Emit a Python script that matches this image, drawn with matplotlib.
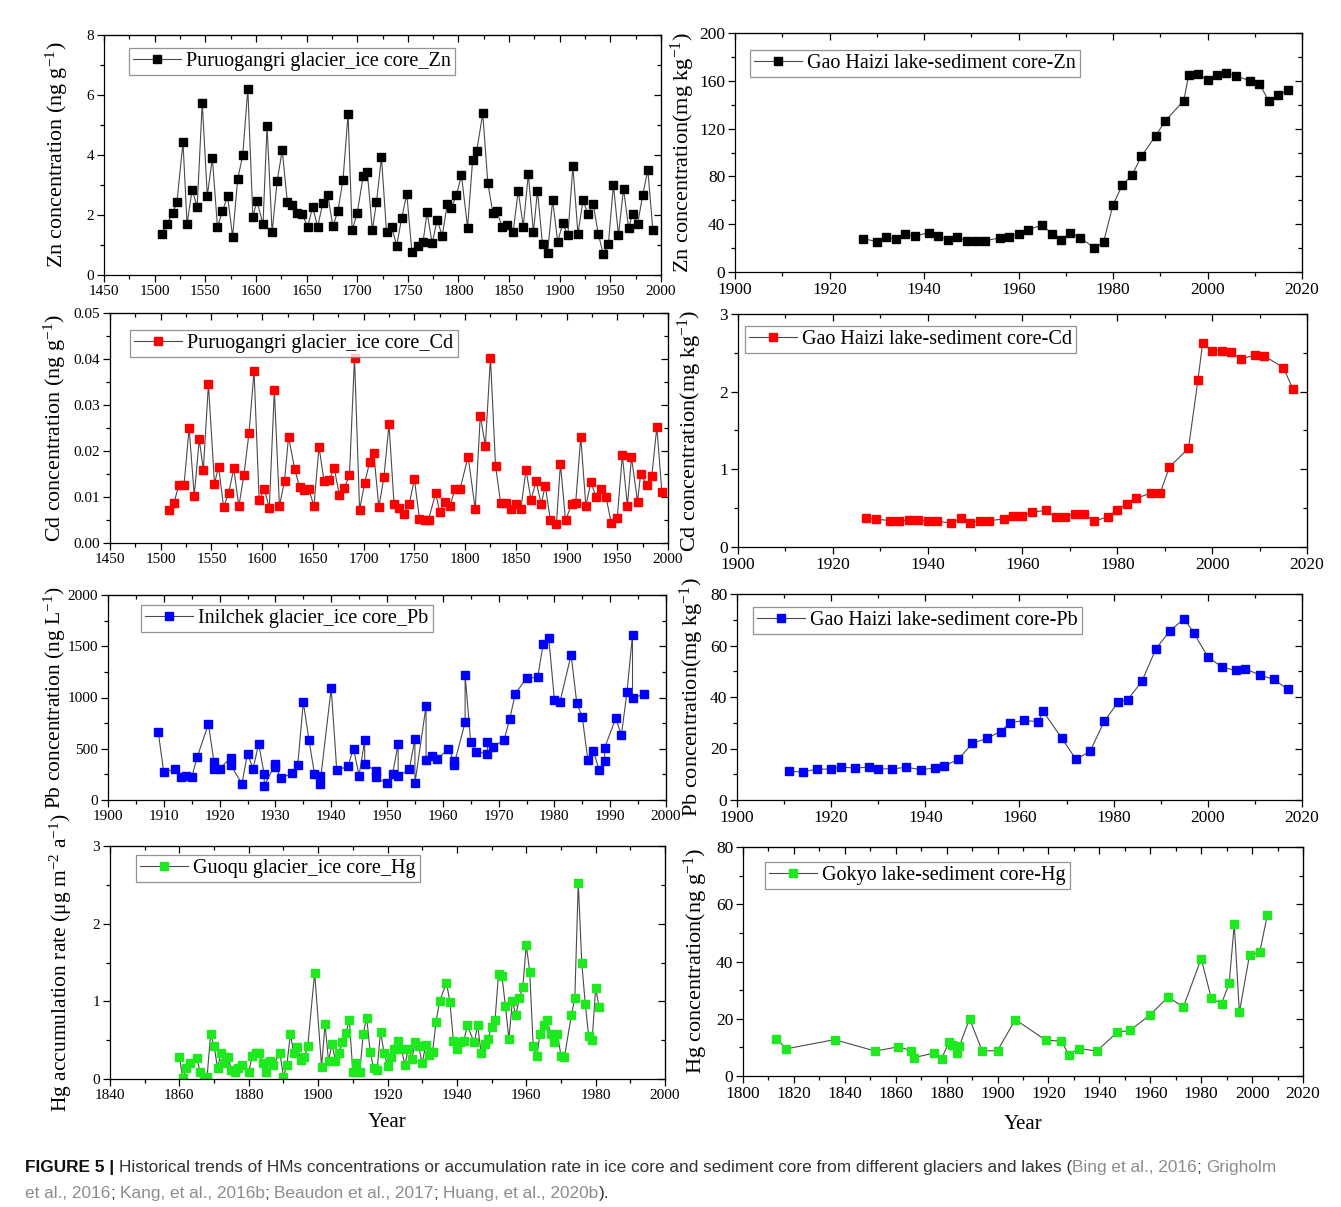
import matplotlib.pyplot as plt
from matplotlib.ticker import MultipleLocator, FormatStrFormatter

plt.rcParams['font.family'] = ['Liberation Serif', 'DejaVu Serif']
plt.rcParams['mathtext.fontset'] = 'custom'
plt.rcParams['mathtext.rm'] = 'Liberation Serif'
plt.rcParams['mathtext.it'] = 'Liberation Serif:italic'
plt.rcParams['mathtext.default'] = 'regular'

# ---- Puruogangri glacier ice core, Zn (ng/g)
zn_ice_year = [1507, 1512, 1518, 1522, 1528, 1532, 1537, 1542, 1547, 1552,
               1557, 1562, 1567, 1572, 1577, 1582, 1587, 1592, 1597, 1601,
               1607, 1611, 1616, 1621, 1626, 1631, 1636, 1641, 1646, 1651,
               1656, 1661, 1666, 1671, 1676, 1681, 1686, 1691, 1695, 1700,
               1706, 1710, 1715, 1719, 1724, 1729, 1734, 1739, 1744, 1749,
               1754, 1760, 1765, 1769, 1774, 1779, 1784, 1789, 1793, 1798,
               1803, 1809, 1814, 1818, 1824, 1829, 1834, 1838, 1843, 1848,
               1854, 1859, 1864, 1869, 1874, 1878, 1883, 1888, 1893, 1898,
               1903, 1908, 1913, 1918, 1923, 1928, 1933, 1938, 1943, 1948,
               1953, 1958, 1963, 1968, 1972, 1977, 1982, 1987, 1992]
zn_ice_val = [1.37, 1.70, 2.08, 2.43, 4.42, 1.70, 2.83, 2.28, 5.74, 2.64,
              3.90, 1.61, 2.12, 2.64, 1.27, 3.19, 4.00, 6.21, 1.94, 2.47,
              1.69, 4.97, 1.42, 3.14, 4.16, 2.43, 2.34, 2.08, 2.02, 1.60,
              2.26, 1.61, 2.39, 2.66, 1.62, 2.14, 3.17, 5.37, 1.49, 2.06,
              3.31, 3.43, 1.49, 2.42, 3.92, 1.42, 1.61, 0.98, 1.91, 2.70,
              0.78, 0.98, 1.09, 2.09, 1.06, 1.83, 1.31, 2.37, 2.23, 2.68,
              3.32, 1.58, 3.83, 4.13, 5.39, 3.07, 2.06, 2.14, 1.59, 1.67,
              1.42, 2.81, 1.61, 3.37, 1.42, 2.80, 1.03, 0.74, 2.49, 1.11,
              1.72, 1.32, 3.62, 1.37, 2.49, 2.02, 2.37, 1.38, 0.69, 1.02,
              3.00, 1.33, 2.87, 1.58, 2.03, 1.71, 2.68, 3.50, 1.49]

# ---- Puruogangri glacier ice core, Cd (ng/g)
cd_ice_year = [1508, 1513, 1518, 1523, 1528, 1533, 1538, 1542, 1547, 1553,
               1557, 1562, 1567, 1572, 1577, 1582, 1587, 1592, 1597, 1602,
               1607, 1612, 1617, 1622, 1626, 1632, 1637, 1641, 1646, 1651,
               1656, 1661, 1666, 1671, 1676, 1681, 1686, 1691, 1696, 1701,
               1706, 1710, 1715, 1720, 1725, 1730, 1735, 1740, 1745, 1750,
               1755, 1760, 1764, 1771, 1775, 1780, 1785, 1790, 1795, 1803,
               1810, 1815, 1820, 1825, 1830, 1835, 1840, 1845, 1850, 1855,
               1860, 1865, 1870, 1875, 1879, 1884, 1890, 1894, 1899, 1905,
               1909, 1914, 1919, 1924, 1929, 1934, 1939, 1944, 1950, 1955,
               1960, 1964, 1970, 1973, 1979, 1984, 1989, 1994]
cd_ice_val = [0.0072, 0.0087, 0.0127, 0.0127, 0.0250, 0.0103, 0.0225, 0.0159, 0.0345, 0.0129,
              0.0166, 0.0078, 0.0109, 0.0162, 0.0080, 0.0148, 0.0239, 0.0374, 0.0093, 0.0118,
              0.0076, 0.0332, 0.0080, 0.0135, 0.0231, 0.0161, 0.0121, 0.0116, 0.0117, 0.0080,
              0.0209, 0.0135, 0.0138, 0.0162, 0.0105, 0.0120, 0.0147, 0.0403, 0.0072, 0.0130,
              0.0177, 0.0195, 0.0078, 0.0143, 0.0258, 0.0084, 0.0076, 0.0064, 0.0085, 0.0139,
              0.0053, 0.0051, 0.0051, 0.0108, 0.0068, 0.0090, 0.0080, 0.0117, 0.0117, 0.0188,
              0.0073, 0.0277, 0.0211, 0.0403, 0.0168, 0.0088, 0.0087, 0.0073, 0.0084, 0.0074,
              0.0159, 0.0094, 0.0134, 0.0084, 0.0125, 0.0050, 0.0042, 0.0172, 0.0049, 0.0085,
              0.0087, 0.0231, 0.0081, 0.0132, 0.0101, 0.0117, 0.0099, 0.0044, 0.0055, 0.0191,
              0.0081, 0.0186, 0.0090, 0.0151, 0.0126, 0.0145, 0.0252, 0.0110]

# ---- Inilchek glacier ice core, Pb (ng/L)
pb_ice_year = [1909, 1910, 1912, 1913, 1914, 1915, 1916, 1918, 1919, 1919,
               1920, 1922, 1922, 1924, 1925, 1926, 1927, 1928, 1928, 1930,
               1930, 1931, 1933, 1934, 1935, 1936, 1937, 1938, 1938, 1940,
               1941, 1943, 1944, 1945, 1946, 1946, 1948, 1948, 1950, 1951,
               1952, 1952, 1954, 1955, 1955, 1957, 1957, 1958, 1959, 1961,
               1962, 1962, 1964, 1964, 1965, 1966, 1968, 1968, 1969, 1971,
               1972, 1973, 1975, 1977, 1978, 1979, 1980, 1981, 1983, 1984,
               1985, 1986, 1987, 1988, 1989, 1989, 1991, 1992, 1993, 1994,
               1994, 1996]
pb_ice_val = [663, 269, 301, 220, 239, 220, 421, 741, 369, 301,
              304, 411, 340, 159, 453, 304, 550, 249, 139, 353,
              324, 214, 262, 340, 955, 589, 256, 230, 159, 1091,
              288, 330, 502, 239, 583, 350, 285, 220, 162, 252,
              550, 230, 301, 592, 162, 916, 388, 430, 398, 498,
              382, 340, 760, 1223, 563, 472, 450, 566, 518, 589,
              793, 1039, 1188, 1197, 1524, 1576, 977, 958, 1417, 951,
              806, 388, 482, 291, 385, 508, 799, 631, 1049, 1612,
              993, 1032]

# ---- Guoqu glacier ice core, Hg accumulation (ug m-2 a-1)
hg_ice_year = [1860, 1861, 1862, 1863, 1865, 1866, 1867, 1868, 1869, 1870,
               1871, 1872, 1873, 1874, 1875, 1876, 1877, 1878, 1880, 1881,
               1882, 1883, 1884, 1885, 1886, 1887, 1889, 1890, 1891, 1892,
               1893, 1894, 1895, 1896, 1897, 1899, 1901, 1902, 1903, 1904,
               1905, 1906, 1907, 1908, 1909, 1910, 1911, 1912, 1913, 1914,
               1915, 1916, 1917, 1918, 1919, 1920, 1921, 1922, 1923, 1924,
               1925, 1926, 1927, 1928, 1929, 1930, 1931, 1932, 1933, 1934,
               1935, 1937, 1938, 1939, 1940, 1941, 1942, 1943, 1945, 1946,
               1947, 1948, 1949, 1950, 1951, 1952, 1953, 1954, 1955, 1956,
               1957, 1958, 1959, 1960, 1961, 1962, 1963, 1964, 1965, 1966,
               1967, 1968, 1969, 1970, 1971, 1973, 1974, 1975, 1976, 1977,
               1978, 1979, 1980, 1981]
hg_ice_val = [0.28, 0.01, 0.14, 0.21, 0.27, 0.09, 0.02, 0.03, 0.58, 0.43,
              0.14, 0.34, 0.21, 0.28, 0.12, 0.09, 0.14, 0.18, 0.09, 0.30,
              0.33, 0.34, 0.21, 0.09, 0.23, 0.18, 0.33, 0.03, 0.18, 0.58,
              0.33, 0.41, 0.24, 0.28, 0.42, 1.37, 0.16, 0.71, 0.23, 0.45,
              0.23, 0.34, 0.47, 0.59, 0.76, 0.09, 0.21, 0.09, 0.58, 0.79,
              0.35, 0.14, 0.12, 0.61, 0.34, 0.17, 0.28, 0.39, 0.49, 0.39,
              0.18, 0.39, 0.26, 0.47, 0.42, 0.20, 0.44, 0.31, 0.35, 0.74,
              1.00, 1.24, 0.99, 0.49, 0.39, 0.48, 0.49, 0.69, 0.47, 0.69,
              0.33, 0.45, 0.52, 0.67, 0.76, 1.35, 1.32, 0.94, 0.51, 1.01,
              0.82, 1.04, 1.18, 1.73, 1.38, 0.42, 0.29, 0.58, 0.69, 0.76,
              0.58, 0.47, 0.58, 0.30, 0.28, 0.82, 1.04, 2.53, 1.50, 0.97,
              0.55, 0.50, 1.17, 0.93]

# ---- Gao Haizi lake-sediment core (mg/kg)
gh_zn_year = [1927, 1930, 1932, 1934, 1936, 1938, 1941, 1943, 1945, 1947,
              1949, 1951, 1953, 1956, 1958, 1960, 1962, 1965, 1967, 1969,
              1971, 1973, 1976, 1978, 1980, 1982, 1984, 1986, 1989, 1991,
              1995, 1996, 1998, 2000, 2002, 2004, 2006, 2009, 2011, 2013,
              2015, 2017]
gh_zn_val = [28.0, 25.5, 29.1, 27.4, 31.6, 29.9, 33.0, 29.9, 27.1, 29.4,
             25.7, 25.7, 26.3, 28.5, 29.7, 31.6, 35.5, 39.2, 32.2, 26.9,
             32.7, 28.8, 20.4, 24.9, 56.2, 73.0, 80.8, 96.8, 113.8, 126.2,
             143.5, 164.8, 165.9, 160.6, 164.8, 166.7, 164.2, 160.0, 157.5, 142.9,
             147.7, 152.4]

gh_cd_year = [1927, 1929, 1932, 1934, 1936, 1938, 1940, 1942, 1945, 1947,
              1949, 1951, 1953, 1956, 1958, 1960, 1962, 1965, 1967, 1969,
              1971, 1973, 1975, 1978, 1980, 1982, 1984, 1987, 1989, 1991,
              1995, 1997, 1998, 2000, 2002, 2004, 2006, 2009, 2011, 2015,
              2017]
gh_cd_val = [0.37, 0.36, 0.34, 0.33, 0.35, 0.35, 0.33, 0.33, 0.31, 0.37,
             0.31, 0.34, 0.34, 0.36, 0.40, 0.40, 0.45, 0.47, 0.39, 0.39,
             0.42, 0.43, 0.33, 0.39, 0.48, 0.56, 0.63, 0.69, 0.69, 1.03,
             1.27, 2.15, 2.63, 2.53, 2.53, 2.51, 2.42, 2.47, 2.46, 2.31,
             2.04]

gh_pb_year = [1911, 1914, 1917, 1920, 1922, 1925, 1928, 1930, 1933, 1936,
              1939, 1942, 1944, 1947, 1950, 1953, 1956, 1958, 1961, 1964,
              1965, 1969, 1972, 1975, 1978, 1981, 1983, 1986, 1989, 1992,
              1995, 1997, 2000, 2003, 2006, 2008, 2011, 2014, 2017]
gh_pb_val = [11.1, 10.9, 12.0, 12.0, 12.8, 12.4, 12.8, 12.1, 12.1, 12.7,
             11.8, 12.4, 13.2, 15.8, 22.0, 23.9, 26.6, 30.0, 30.9, 30.4,
             34.5, 23.9, 15.8, 18.9, 30.6, 38.1, 39.0, 46.1, 58.8, 65.8,
             70.4, 64.9, 55.6, 51.6, 50.3, 50.9, 48.6, 46.8, 43.0]

# ---- Gokyo lake-sediment core, Hg (ng/g)
gk_hg_year = [1813, 1817, 1836, 1852, 1861, 1866, 1867, 1875, 1878, 1881,
              1882, 1884, 1885, 1889, 1894, 1900, 1907, 1919, 1925, 1928,
              1932, 1939, 1947, 1952, 1960, 1967, 1973, 1980, 1984, 1988,
              1991, 1993, 1995, 1999, 2003, 2006]
gk_hg_val = [13.1, 9.5, 12.7, 8.7, 10.2, 8.9, 6.4, 8.0, 6.1, 11.9,
             10.8, 8.1, 10.4, 20.0, 8.7, 8.9, 19.7, 12.5, 12.2, 7.5,
             9.6, 8.7, 15.3, 15.9, 21.4, 27.6, 24.1, 41.0, 27.1, 25.3,
             32.4, 53.1, 22.2, 42.3, 43.2, 56.3]

W, H = 1341, 1207
fig = plt.figure(figsize=(W / 100, H / 100), dpi=100)
fig.patch.set_facecolor('white')

LINE = '#4a4a4a'


def make_axes(l, t, r, b):
    return fig.add_axes([l / W, 1 - b / H, (r - l) / W, (b - t) / H])


def panel(box, x, y, color, label, xlim, xstep, ylim, ystep, ylabel,
          leg_at, ylab_x, tick_fs, ms, ylab_fs, yfmt=None, xlabel=None, xlab_y=None):
    ax = make_axes(*box)
    ax.plot(x, y, '-', color=LINE, lw=0.8, marker='s', ms=ms,
            mfc=color, mec=color, label=label)
    ax.set_xlim(*xlim)
    ax.set_ylim(*ylim)
    ax.xaxis.set_major_locator(MultipleLocator(xstep))
    ax.xaxis.set_minor_locator(MultipleLocator(xstep / 2))
    ax.yaxis.set_major_locator(MultipleLocator(ystep))
    ax.yaxis.set_minor_locator(MultipleLocator(ystep / 2))
    if yfmt:
        ax.yaxis.set_major_formatter(FormatStrFormatter(yfmt))
    ax.tick_params(which='both', direction='out', labelsize=tick_fs, pad=2)
    ax.tick_params(which='major', length=5, width=0.9)
    ax.tick_params(which='minor', length=3, width=0.9)
    for s in ax.spines.values():
        s.set_linewidth(0.9)

    # inward ticks on the top and right frame
    top = ax.secondary_xaxis('top')
    top.xaxis.set_major_locator(MultipleLocator(xstep))
    top.xaxis.set_minor_locator(MultipleLocator(xstep / 2))
    top.tick_params(which='both', direction='in', labeltop=False, width=0.9)
    top.tick_params(which='major', length=5)
    top.tick_params(which='minor', length=3)
    right = ax.secondary_yaxis('right')
    right.yaxis.set_major_locator(MultipleLocator(ystep))
    right.yaxis.set_minor_locator(MultipleLocator(ystep / 2))
    right.tick_params(which='both', direction='in', labelright=False, width=0.9)
    right.tick_params(which='major', length=5)
    right.tick_params(which='minor', length=3)

    leg = ax.legend(loc='upper left', bbox_to_anchor=leg_at, borderaxespad=0,
                    fontsize=14.5, frameon=True, fancybox=False,
                    handlelength=2.4, handletextpad=0.25, borderpad=0.2)
    leg.get_frame().set_edgecolor('#7a7a7a')
    leg.get_frame().set_linewidth(0.9)

    l, t, r, b = box
    ax.set_ylabel(ylabel, fontsize=ylab_fs)
    ax.yaxis.set_label_coords((ylab_x - l) / (r - l), 0.5)
    if xlabel:
        ax.set_xlabel(xlabel, fontsize=15)
        ax.xaxis.set_label_coords(0.5, (b - xlab_y) / (b - t))
    return ax


panel((104, 35, 661, 275), zn_ice_year, zn_ice_val, 'black',
      'Puruogangri glacier_ice core_Zn', (1450, 2000), 50, (0, 8), 2,
      'Zn concentration (ng g$^{-1}$)', (0.045, 0.946), 70, 11, 5.2, 15.8)
panel((735, 33, 1302, 272), gh_zn_year, gh_zn_val, 'black',
      'Gao Haizi lake-sediment core-Zn', (1900, 2020), 20, (0, 200), 40,
      'Zn concentration(mg kg$^{-1}$)', (0.026, 0.929), 697, 12.5, 6.4, 16)

panel((110, 313, 668, 543), cd_ice_year, cd_ice_val, 'red',
      'Puruogangri glacier_ice core_Cd', (1450, 2000), 50, (0, 0.05), 0.01,
      'Cd concentration (ng g$^{-1}$)', (0.036, 0.926), 68, 11, 5.2, 15.8, yfmt='%.2f')
panel((738, 314, 1307, 547), gh_cd_year, gh_cd_val, 'red',
      'Gao Haizi lake-sediment core-Cd', (1900, 2020), 20, (0, 3), 1,
      'Cd concentration(mg kg$^{-1}$)', (0.012, 0.948), 704, 12.5, 6.4, 16)

panel((108, 595, 666, 800), pb_ice_year, pb_ice_val, 'blue',
      'Inilchek glacier_ice core_Pb', (1900, 2000), 10, (0, 2000), 500,
      'Pb concentration (ng L$^{-1}$)', (0.059, 0.951), 68, 11, 5.2, 15.5)
panel((737, 594, 1302, 800), gh_pb_year, gh_pb_val, 'blue',
      'Gao Haizi lake-sediment core-Pb', (1900, 2020), 20, (0, 80), 20,
      'Pb concentration(mg kg$^{-1}$)', (0.028, 0.937), 706, 12.5, 6.4, 16)

panel((110, 846, 665, 1079), hg_ice_year, hg_ice_val, '#1ee81e',
      'Guoqu glacier_ice core_Hg', (1840, 2000), 20, (0, 3), 1,
      'Hg accumulation rate (μg m$^{-2}$ a$^{-1}$)', (0.047, 0.961), 74, 11, 5.2, 15.5,
      xlabel='Year', xlab_y=1113)
panel((743, 847, 1303, 1076), gk_hg_year, gk_hg_val, '#1ee81e',
      'Gokyo lake-sediment core-Hg', (1800, 2020), 20, (0, 80), 20,
      'Hg concentration(ng g$^{-1}$)', (0.039, 0.934), 710, 12.5, 6.4, 16,
      xlabel='Year', xlab_y=1115)

# caption, drawn piece by piece so the citations can be greyed out
DARK, GREY = '#333333', '#8c8c8c'
CAP_FS = 12.4
caption = [
    (25, 1172, [('FIGURE 5 |', '#111111', 'bold', 0),
                ('Historical trends of HMs concentrations or accumulation rate in ice core and '
                 'sediment core from different glaciers and lakes (', DARK, 'normal', 1),
                ('Bing et al., 2016', GREY, 'normal', 0),
                (';', DARK, 'normal', 0),
                ('Grigholm', GREY, 'normal', 1)]),
    (25, 1198, [('et al., 2016', GREY, 'normal', 0),
                (';', DARK, 'normal', 0),
                ('Kang, et al., 2016b', GREY, 'normal', 1),
                (';', DARK, 'normal', 0),
                ('Beaudon et al., 2017', GREY, 'normal', 1),
                (';', DARK, 'normal', 0),
                ('Huang, et al., 2020b', GREY, 'normal', 1),
                (').', DARK, 'normal', 0)]),
]
renderer = fig.canvas.get_renderer()
space = CAP_FS * 0.278 * 100 / 72
for x0, y0, pieces in caption:
    x = x0
    for text, color, weight, gap in pieces:
        x += gap * space
        t = fig.text(x / W, 1 - y0 / H, text, color=color, fontsize=CAP_FS,
                     fontweight=weight, family=['Liberation Sans', 'DejaVu Sans'],
                     va='baseline', ha='left')
        x = t.get_window_extent(renderer).x1

fig.savefig('out.png', dpi=100)
